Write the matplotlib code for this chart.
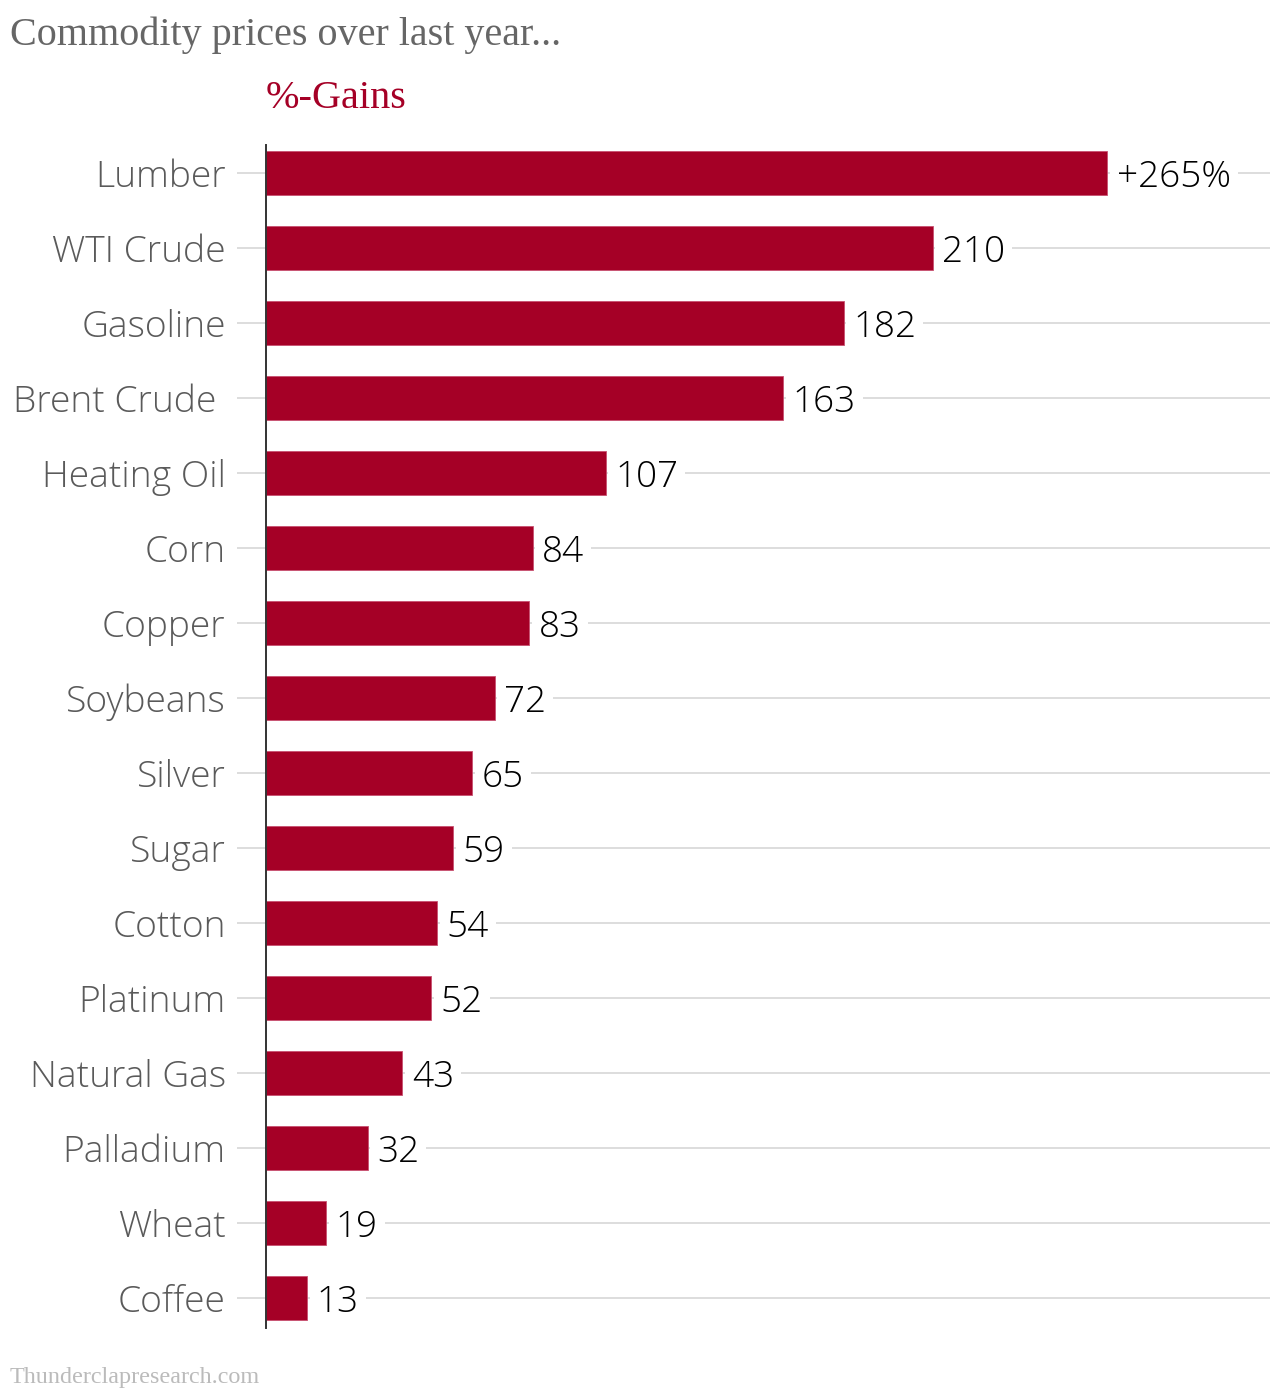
import matplotlib
matplotlib.use("Agg")
import matplotlib.pyplot as plt

# data
commodities = ["Lumber", "WTI Crude", "Gasoline", "Brent Crude ", "Heating Oil", "Corn",
               "Copper", "Soybeans", "Silver", "Sugar", "Cotton", "Platinum",
               "Natural Gas", "Palladium", "Wheat", "Coffee"]
gains = [265, 210, 182, 163, 107, 84, 83, 72, 65, 59, 54, 52, 43, 32, 19, 13]
value_labels = ["+265%"] + [str(v) for v in gains[1:]]

bar_color = "#a50026"

fig = plt.figure(figsize=(12.8, 13.9), dpi=100)
ax = fig.add_axes([266 / 1280, 1 - 1328 / 1390, (1270 - 266) / 1280, (1328 - 145) / 1390])

ypos = list(range(len(commodities)))
ax.barh(ypos, gains, height=0.59, color=bar_color, edgecolor="#c85070", linewidth=0.6, zorder=3)

# gridlines behind bars
for y in ypos:
    ax.axhline(y, color="#dddddd", linewidth=1.4, zorder=1)

for y, v, lab in zip(ypos, gains, value_labels):
    ax.text(v + 3.0, y, lab, va="center_baseline", ha="left", fontsize=26.6, family="Open Sans",
            fontweight="light", color="black", zorder=4,
            bbox=dict(facecolor="white", edgecolor="none", pad=5))

ax.set_xlim(0, 316.3)
ax.set_ylim(len(commodities) - 1 + 0.4, -0.373)
ax.set_yticks(ypos)
ax.set_yticklabels(commodities, fontsize=26.8, family="Open Sans", fontweight="light",
                   color="#5a5a5a", va="center_baseline")
ax.tick_params(axis="y", length=21, width=1.4, color="#dddddd", pad=8)
ax.set_xticks([])

for s in ["top", "right", "bottom"]:
    ax.spines[s].set_visible(False)
ax.spines["left"].set_color("#333333")
ax.spines["left"].set_linewidth(1.4)
ax.spines["left"].set_zorder(5)

fig.text(10 / 1280, 1 - 35 / 1390, "Commodity prices over last year...", fontsize=28.9,
         family="Liberation Serif", color="#666666", va="center", ha="left")
fig.text(266 / 1280, 1 - 99 / 1390, "%-Gains", fontsize=29, family="Liberation Serif",
         color=bar_color, va="center", ha="left")
fig.text(10 / 1280, 1 - 1377 / 1390, "Thunderclapresearch.com", fontsize=17.4,
         family="Liberation Serif", color="#bbbbbb", va="center", ha="left")

fig.savefig("out.png", dpi=100, facecolor="white")
